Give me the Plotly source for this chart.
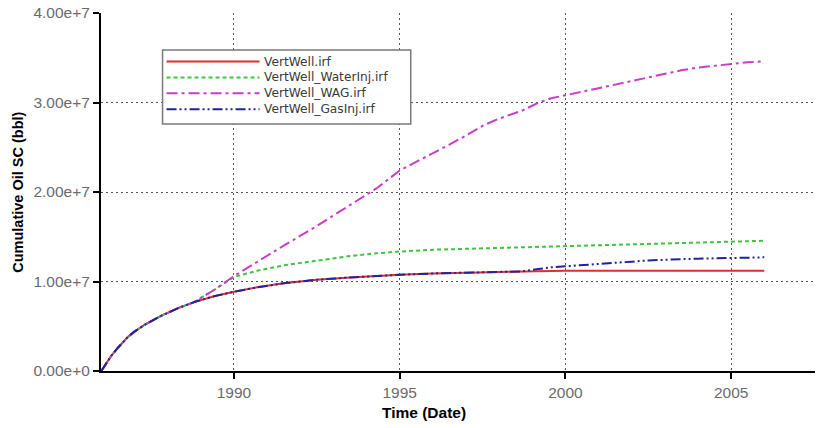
import plotly.graph_objects as go

# ---- data (cumulative oil, units of 1e7 bbl) ----
years = [1986.0, 1986.15, 1986.3, 1986.5, 1986.8, 1987.0, 1987.3, 1987.8, 1988.3, 1988.8,
         1989.4, 1990.0, 1990.7, 1991.5, 1992.5, 1993.5, 1994.3, 1995.0, 1996.0, 1996.5,
         1997.0, 1997.5, 1998.0, 1998.7, 1999.2, 1999.6, 2000.0, 2000.5, 2001.0, 2001.5,
         2002.0, 2002.5, 2003.0, 2003.5, 2004.0, 2004.5, 2005.0, 2005.5, 2006.0]

vert_well = [0.0, 0.09, 0.17, 0.26, 0.38, 0.44, 0.515, 0.615, 0.70, 0.77,
             0.835, 0.885, 0.935, 0.98, 1.02, 1.045, 1.065, 1.075, 1.09, 1.095,
             1.10, 1.105, 1.11, 1.113, 1.116, 1.118, 1.12, 1.12, 1.12, 1.12,
             1.12, 1.12, 1.12, 1.12, 1.12, 1.12, 1.12, 1.12, 1.12]

water_inj = [0.0, 0.09, 0.17, 0.26, 0.38, 0.44, 0.515, 0.615, 0.70, 0.77,
             0.905, 1.05, 1.12, 1.18, 1.235, 1.285, 1.315, 1.335, 1.355, 1.36,
             1.365, 1.37, 1.375, 1.38, 1.385, 1.39, 1.40, 1.405, 1.41, 1.415,
             1.42, 1.425, 1.43, 1.435, 1.44, 1.445, 1.45, 1.455, 1.455]

wag = [0.0, 0.09, 0.17, 0.26, 0.38, 0.44, 0.515, 0.615, 0.70, 0.77,
       0.905, 1.06, 1.22, 1.40, 1.62, 1.85, 2.04, 2.24, 2.43, 2.53,
       2.63, 2.74, 2.82, 2.91, 3.00, 3.05, 3.08, 3.12, 3.16, 3.20,
       3.24, 3.28, 3.32, 3.36, 3.39, 3.41, 3.43, 3.45, 3.46]

gas_inj = [0.0, 0.09, 0.17, 0.26, 0.38, 0.44, 0.515, 0.615, 0.70, 0.77,
           0.835, 0.885, 0.935, 0.98, 1.02, 1.045, 1.065, 1.075, 1.09, 1.095,
           1.10, 1.105, 1.11, 1.113, 1.14, 1.16, 1.17, 1.185, 1.20, 1.21,
           1.222, 1.235, 1.245, 1.25, 1.255, 1.26, 1.263, 1.267, 1.27]

series_names = ["VertWell.irf", "VertWell_WaterInj.irf", "VertWell_WAG.irf", "VertWell_GasInj.irf"]
x_tick_vals = [1990, 1995, 2000, 2005]
x_tick_text = ["1990", "1995", "2000", "2005"]
y_tick_vals = [0, 1e7, 2e7, 3e7, 4e7]
y_tick_text = ["0.00e+0", "1.00e+7", "2.00e+7", "3.00e+7", "4.00e+7"]

colors = ["#dc3030", "#3ec43e", "#c83cc8", "#22229a"]
dashes = ["solid", "4px,3px", "11px,4px,3px,4px", "10px,3px,2px,3px,2px,3px"]
widths = [2, 2, 2, 2]

fig = go.Figure()
for name, vals, c, d, w in zip(series_names, [vert_well, water_inj, wag, gas_inj], colors, dashes, widths):
    fig.add_trace(go.Scatter(
        x=years, y=[v * 1e7 for v in vals], mode="lines", name=name,
        line=dict(color=c, width=w, dash=d), showlegend=False,
    ))

FONT = "Liberation Sans, Arial, sans-serif"
LEG_FONT = "DejaVu Sans, Liberation Sans, sans-serif"

fig.update_layout(
    width=819, height=428,
    margin=dict(l=101, r=4, t=13, b=57),
    paper_bgcolor="white", plot_bgcolor="white",
    font=dict(family=FONT),
)
fig.update_xaxes(
    range=[1985.99, 2007.53], tickvals=x_tick_vals, ticktext=x_tick_text,
    showline=True, linecolor="black", linewidth=2,
    ticks="outside", ticklen=6, tickwidth=1.5, tickcolor="black",
    showgrid=True, gridcolor="#555555", gridwidth=1, griddash="2px,3px",
    zeroline=False, tickfont=dict(family=FONT, size=15.5, color="#6b6b6b"),
)
fig.update_yaxes(
    range=[0, 4e7], tickvals=y_tick_vals, ticktext=y_tick_text,
    showline=True, linecolor="black", linewidth=2,
    ticks="outside", ticklen=6, tickwidth=1.5, tickcolor="black",
    showgrid=True, gridcolor="#555555", gridwidth=1, griddash="2px,3px",
    zeroline=False, tickfont=dict(family=FONT, size=15.5, color="#6b6b6b"),
)

# axis titles
fig.add_annotation(text="<b>Cumulative Oil SC (bbl)</b>", xref="paper", yref="paper",
                   x=-0.1166, y=0.5, textangle=-90, showarrow=False,
                   xanchor="center", yanchor="middle",
                   font=dict(family=FONT, size=14.5, color="black"))
fig.add_annotation(text="<b>Time (Date)</b>", xref="paper", yref="paper",
                   x=0.452, y=-0.1173, showarrow=False,
                   xanchor="center", yanchor="middle",
                   font=dict(family=FONT, size=15.5, color="black"))

# legend box (drawn manually to match the long sample lines)
fig.add_shape(type="rect", xref="paper", yref="paper", x0=0.0862, x1=0.4338, y0=0.690, y1=0.8966,
              line=dict(color="#7a7a7a", width=1.5), fillcolor="white", layer="above")
row_y = [0.8645, 0.8200, 0.7755, 0.7310]
for name, c, d, w, yy in zip(series_names, colors, dashes, widths, row_y):
    fig.add_shape(type="line", xref="paper", yref="paper", x0=0.0918, x1=0.2221, y0=yy, y1=yy,
                  line=dict(color=c, width=w, dash=d), layer="above")
    fig.add_annotation(text=name, xref="paper", yref="paper", x=0.2263, y=yy,
                       xanchor="left", yanchor="middle", showarrow=False, borderpad=0,
                       font=dict(family=LEG_FONT, size=12.2, color="#3a3a3a"))

fig.write_html("out.html")
